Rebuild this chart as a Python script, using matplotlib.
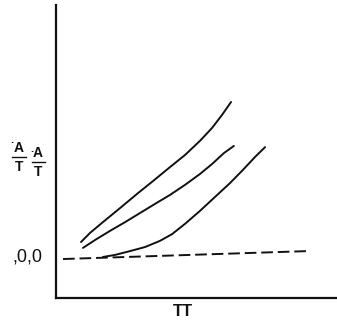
import matplotlib
matplotlib.use("Agg")
import matplotlib.pyplot as plt
from matplotlib.lines import Line2D

# Curves (arbitrary units)
c1_x = [8.9, 12.1, 16.7, 22.8, 28.8, 34.5, 40.6, 45.9, 51.2, 55.5, 59.1, 62.3]
c1_y = [19.1, 22.2, 25.9, 30.7, 35.5, 39.9, 44.7, 48.8, 53.6, 58.0, 62.5, 66.9]

c2_x = [9.6, 13.9, 19.2, 24.6, 29.9, 35.2, 40.6, 45.9, 51.2, 55.5, 59.8, 63.3]
c2_y = [17.1, 19.8, 22.9, 25.9, 29.0, 32.1, 35.2, 38.6, 42.3, 45.7, 49.5, 51.9]

c3_x = [16.7, 21.0, 26.3, 31.7, 37.0, 41.3, 45.9, 51.2, 56.6, 61.9, 66.5, 70.8, 74.4]
c3_y = [14.0, 14.7, 16.0, 17.4, 19.5, 21.8, 25.3, 29.7, 34.5, 39.2, 43.7, 48.1, 51.5]

base_x = [2.5, 89.3]
base_y = [13.3, 16.0]

fig = plt.figure(figsize=(3.37, 3.21), dpi=100)
ax = fig.add_axes([56 / 337, 23 / 321, 281 / 337, 293 / 321])
ax.set_xlim(0, 100)
ax.set_ylim(0, 100)

for xs, ys in [(c1_x, c1_y), (c2_x, c2_y), (c3_x, c3_y)]:
    ax.plot(xs, ys, color="#111111", lw=1.4, solid_capstyle="round",
            solid_joinstyle="round")
ax.plot(base_x, base_y, color="#111111", lw=1.4, dashes=(6, 2.5))

for side in ["top", "right"]:
    ax.spines[side].set_visible(False)
for side in ["left", "bottom"]:
    ax.spines[side].set_linewidth(1.6)
    ax.spines[side].set_color("#111111")
ax.set_xticks([])
ax.set_yticks([])

# hand-lettered labels
kw = dict(transform=fig.transFigure, color="#111111", family="Liberation Sans",
          ha="center", va="center")
fig.text(19 / 337, 1 - 148 / 321, "A", fontsize=10, fontweight="bold", **kw)
fig.text(19 / 337, 1 - 167 / 321, "T", fontsize=10, fontweight="bold", **kw)
fig.text(38 / 337, 1 - 153 / 321, "A", fontsize=10, fontweight="bold", **kw)
fig.text(38 / 337, 1 - 172 / 321, "T", fontsize=10, fontweight="bold", **kw)
fig.text(12 / 337, 1 - 140 / 321, ".", fontsize=8, fontweight="bold", **kw)
fig.text(32 / 337, 1 - 149 / 321, ".", fontsize=8, fontweight="bold", **kw)
for x0, x1, y in [(12, 26, 157), (32, 45, 162)]:
    fig.add_artist(Line2D([x0 / 337, x1 / 337], [1 - y / 321, 1 - y / 321],
                          transform=fig.transFigure, color="#111111", lw=1.0))
fig.text(27 / 337, 1 - 257 / 321, ",0,0", fontsize=13, **kw)
fig.text(183 / 337, 1 - 311 / 321, "TT", fontsize=12, fontweight="bold", **kw)

fig.savefig("out.png", dpi=100, facecolor="white")
